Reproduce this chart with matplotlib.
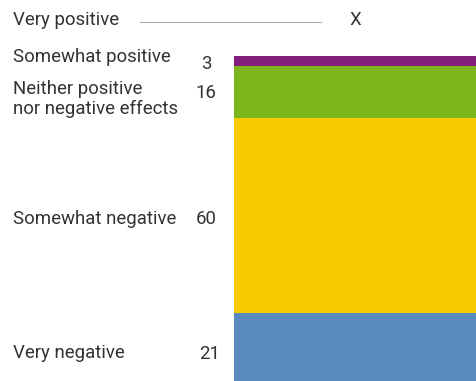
import matplotlib.pyplot as plt

# survey answers, top to bottom
categories = ["Very positive", "Somewhat positive", "Neither positive\nnor negative effects",
              "Somewhat negative", "Very negative"]
values = [None, 3, 16, 60, 21]   # None -> no answers ("X")
colors = [None, "#841E7D", "#7DB51D", "#F9C900", "#598BC0"]

W, H = 476, 381
fig = plt.figure(figsize=(W / 100, H / 100), dpi=100)
plt.rcParams['font.family'] = ['Roboto', 'DejaVu Sans']

# stacked bar on the right
ax = fig.add_axes([234 / W, 0, 1 - 234 / W, 325 / H])
bottom = 0
for v, c in zip(values[::-1], colors[::-1]):
    if v is None:
        continue
    ax.bar(0, v, bottom=bottom, width=1, color=c, linewidth=0)
    bottom += v
ax.set_xlim(-0.5, 0.5)
ax.set_ylim(0, 100)
ax.axis("off")

def px(x, y):
    return x / W, 1 - y / H

txt = dict(color="#333333", fontsize=13.4, va="center")
label_y = [20, 57, 99, 219, 353]
value_pos = [(355, 20), (206, 64), (206, 93), (206, 219), (210, 354)]

for cat, ly, v, (vx, vy) in zip(categories, label_y, values, value_pos):
    fig.text(*px(13, ly), cat, ha="left", linespacing=1.1, **txt)
    fig.text(*px(vx, vy), "X" if v is None else str(v), ha="center", **txt)

# thin rule between "Very positive" and its X
fig.add_artist(plt.Line2D([140 / W, 321 / W], [1 - 22 / H, 1 - 22 / H],
                          color="#aaaaaa", linewidth=0.8))

fig.savefig("out.png", dpi=100)
